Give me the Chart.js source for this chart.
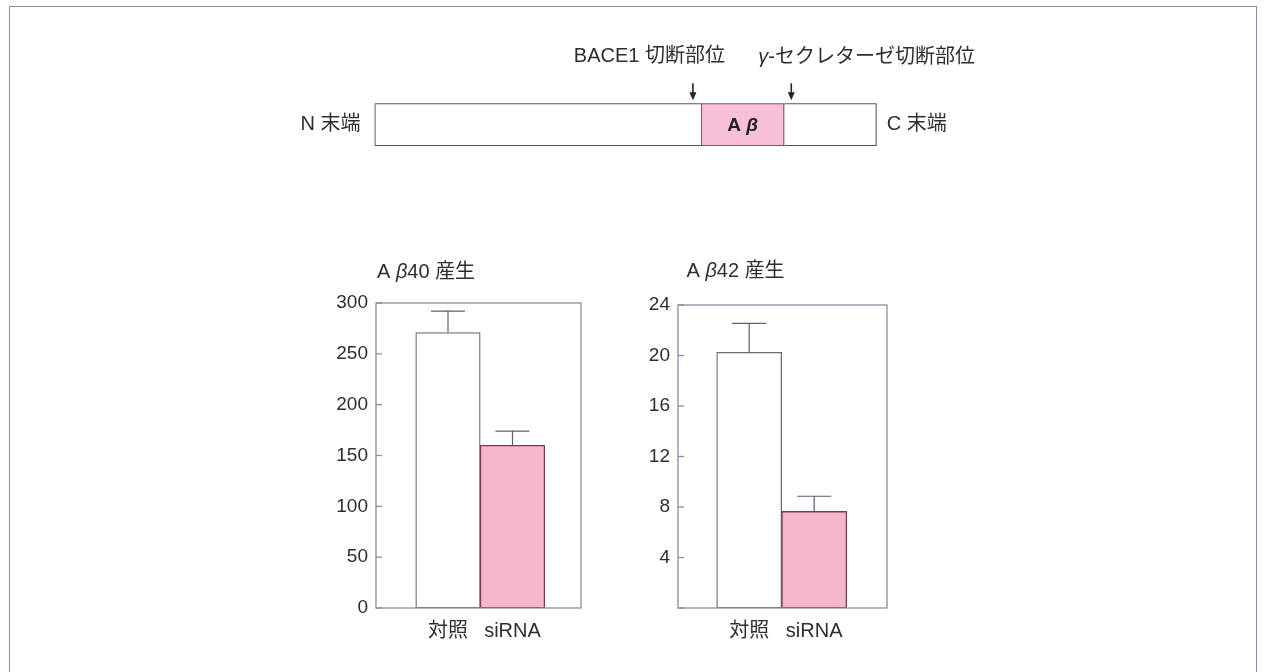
<!DOCTYPE html>
<html lang="ja">
<head>
<meta charset="utf-8">
<title>Aβ産生</title>
<script src="https://cdn.jsdelivr.net/npm/chart.js@4.4.0/dist/chart.umd.min.js"></script>
<style>
    html, body { margin: 0; padding: 0; background: #fff; }
    body { width: 1265px; height: 672px; position: relative; overflow: hidden; }
    #frame {
        position: absolute; left: 9px; top: 6px; width: 1248px; height: 720px;
        border: 1.5px solid #8f8bb0; box-sizing: border-box;
    }
    canvas { position: absolute; }
    #diagram { left: 270px; top: 30px; }
    #ab40Chart { left: 320px; top: 250px; }
    #ab42Chart { left: 620px; top: 250px; }
</style>
</head>
<body>
<div id="frame"></div>
<canvas id="diagram" width="740" height="130"></canvas>
<canvas id="ab40Chart" width="280" height="400"></canvas>
<canvas id="ab42Chart" width="280" height="400"></canvas>

<script>
// APP schematic: relative lengths of the three regions
const regionNames = ['N末端側', 'Aβ', 'C末端側'];
const regionLengths = [65.0, 16.6, 18.4];

// bar charts
const groupLabels = ['対照', 'siRNA'];
const groupPositions = [1, 2];
const ab40Values = [271, 160];
const ab40Errors = [21, 14];
const ab42Values = [20.25, 7.65];
const ab42Errors = [2.3, 1.2];
const ab40Axis = [0, 300, 50];   // min, max, step
const ab42Axis = [0, 24, 4];

const FONT = '"Liberation Sans", "Noto Sans CJK JP", sans-serif';
const TEXT = '#2e2e2e';
const FRAME = '#8a8ca8';
const EDGE = '#6a6a72';
const PINK = '#f6b6cc';
const PINK_EDGE = '#7a3a52';

function font(size, style) {
    return (style ? style + ' ' : '') + size + 'px ' + FONT;
}

// draw several text pieces (each with its own font) in a row
function drawRuns(ctx, runs, x, y, align) {
    let total = 0;
    runs.forEach(r => { ctx.font = r[1]; total += ctx.measureText(r[0]).width; });
    let cx = align === 'right' ? x - total : align === 'center' ? x - total / 2 : x;
    ctx.textAlign = 'left';
    runs.forEach(r => {
        ctx.font = r[1];
        ctx.fillText(r[0], cx, y);
        cx += ctx.measureText(r[0]).width;
    });
}

function drawArrow(ctx, x, yTop, yTip) {
    ctx.beginPath();
    ctx.moveTo(x, yTop);
    ctx.lineTo(x, yTip - 5);
    ctx.stroke();
    ctx.beginPath();
    ctx.moveTo(x, yTip);
    ctx.lineTo(x - 3.5, yTip - 8);
    ctx.lineTo(x + 3.5, yTip - 8);
    ctx.closePath();
    ctx.fill();
}

// labels and cleavage-site arrows around the schematic
const diagramPlugin = {
    id: 'diagramLabels',
    afterDraw(chart) {
        const ctx = chart.ctx;
        const area = chart.chartArea;
        const x = chart.scales.x;
        const cut1 = x.getPixelForValue(regionLengths[0]);
        const cut2 = x.getPixelForValue(regionLengths[0] + regionLengths[1]);
        const midY = (area.top + area.bottom) / 2;
        const a1 = cut1 - 8;
        const a2 = cut2 + 7;

        ctx.save();
        ctx.fillStyle = TEXT;
        ctx.strokeStyle = '#222';
        ctx.lineWidth = 1.6;
        ctx.textBaseline = 'middle';
        drawRuns(ctx, [['N 末端', font(20)]], area.left - 14, midY, 'right');
        drawRuns(ctx, [['C 末端', font(20)]], area.right + 10, midY, 'left');
        ctx.fillStyle = '#222';
        drawRuns(ctx, [['A ', font(19, 'bold')], ['β', font(19, 'italic bold')]], (cut1 + cut2) / 2, midY + 1, 'center');

        drawArrow(ctx, a1, area.top - 20, area.top - 3);
        drawArrow(ctx, a2, area.top - 20, area.top - 3);

        ctx.fillStyle = TEXT;
        drawRuns(ctx, [['BACE1 切断部位', font(20)]], a1 + 32, area.top - 47, 'right');
        drawRuns(ctx, [['γ', font(20, 'italic')], ['-セクレターゼ切断部位', font(20)]], a2 - 33, area.top - 46, 'left');
        ctx.restore();
    }
};

new Chart(document.getElementById('diagram'), {
    type: 'bar',
    data: {
        labels: ['APP'],
        datasets: regionNames.map((name, i) => ({
            label: name,
            data: [regionLengths[i]],
            backgroundColor: i === 1 ? '#f7c0d6' : '#ffffff',
            borderColor: i === 1 ? '#7a5566' : '#55555c',
            borderWidth: {
                top: 1.4,
                bottom: 1.4,
                left: i === 2 ? 0 : 1.4,
                right: i === 0 ? 0 : 1.4
            },
            borderSkipped: false,
            categoryPercentage: 1,
            barPercentage: 1
        }))
    },
    options: {
        indexAxis: 'y',
        responsive: false,
        animation: false,
        layout: { padding: { left: 104.5, right: 133.3, top: 73.3, bottom: 14 } },
        plugins: { legend: { display: false }, tooltip: { enabled: false } },
        scales: {
            x: { stacked: true, display: false, min: 0, max: regionLengths.reduce((a, b) => a + b, 0) },
            y: { stacked: true, display: false }
        }
    },
    plugins: [diagramPlugin]
});

// frame, inward ticks, error bars and panel title
const panelPlugin = {
    id: 'panel',
    afterDatasetsDraw(chart, args, opts) {
        const ctx = chart.ctx;
        const area = chart.chartArea;
        const y = chart.scales.y;
        const ds = chart.data.datasets[0];
        const meta = chart.getDatasetMeta(0);

        ctx.save();
        ctx.strokeStyle = '#5c6070';
        ctx.lineWidth = 1.2;
        meta.data.forEach((bar, i) => {
            const top = y.getPixelForValue(ds.data[i].y + ds.errors[i]);
            ctx.beginPath();
            ctx.moveTo(bar.x, bar.y);
            ctx.lineTo(bar.x, top);
            ctx.moveTo(bar.x - 17, top);
            ctx.lineTo(bar.x + 17, top);
            ctx.stroke();
        });

        ctx.strokeStyle = FRAME;
        ctx.lineWidth = 1.3;
        ctx.strokeRect(area.left, area.top, area.width, area.height);
        y.ticks.forEach(t => {
            const py = y.getPixelForValue(t.value);
            ctx.beginPath();
            ctx.moveTo(area.left, py);
            ctx.lineTo(area.left + 6, py);
            ctx.stroke();
        });

        ctx.fillStyle = TEXT;
        ctx.textBaseline = 'middle';
        drawRuns(ctx, [['A ', font(20)], ['β', font(20, 'italic')], [opts.suffix, font(20)]],
            area.left + opts.dx, area.top + opts.dy, 'left');
        ctx.restore();
    }
};

function buildBarChart(canvasId, cfg) {
    return new Chart(document.getElementById(canvasId), {
        type: 'bar',
        data: {
            datasets: [{
                data: groupPositions.map((p, i) => ({ x: p, y: cfg.values[i] })),
                errors: cfg.errors,
                backgroundColor: ['#ffffff', PINK],
                borderColor: [EDGE, PINK_EDGE],
                borderWidth: 1.3,
                borderSkipped: false,
                categoryPercentage: 1,
                barPercentage: 1
            }]
        },
        options: {
            responsive: false,
            animation: false,
            layout: { padding: cfg.padding },
            plugins: {
                legend: { display: false },
                tooltip: { enabled: false },
                panel: cfg.title
            },
            scales: {
                x: {
                    type: 'linear',
                    min: cfg.xRange[0],
                    max: cfg.xRange[1],
                    offset: false,
                    grid: { display: false, drawTicks: false },
                    border: { display: false },
                    afterBuildTicks: s => { s.ticks = groupPositions.map(v => ({ value: v })); },
                    afterFit: s => { s.height = 42; },
                    ticks: {
                        autoSkip: false,
                        maxRotation: 0,
                        padding: 11,
                        color: TEXT,
                        font: { family: FONT, size: 20 },
                        callback: v => groupLabels[groupPositions.indexOf(v)] || ''
                    }
                },
                y: {
                    min: cfg.axis[0],
                    max: cfg.axis[1],
                    grid: { display: false, drawTicks: false },
                    border: { display: false },
                    afterFit: s => { s.width = cfg.axisWidth; },
                    ticks: {
                        stepSize: cfg.axis[2],
                        padding: 8,
                        color: TEXT,
                        font: { family: FONT, size: 19 },
                        callback: v => (cfg.hideZero && v === 0) ? '' : v
                    }
                }
            }
        },
        plugins: [panelPlugin]
    });
}

buildBarChart('ab40Chart', {
    values: ab40Values,
    errors: ab40Errors,
    axis: ab40Axis,
    xRange: [-0.116, 3.062],
    axisWidth: 56,
    padding: { left: 0, right: 19, top: 53, bottom: 0 },
    hideZero: false,
    title: { suffix: '40 産生', dx: 1, dy: -31 }
});

buildBarChart('ab42Chart', {
    values: ab42Values,
    errors: ab42Errors,
    axis: ab42Axis,
    xRange: [-0.095, 3.12],
    axisWidth: 58,
    padding: { left: 0, right: 13, top: 55, bottom: 0 },
    hideZero: true,
    title: { suffix: '42 産生', dx: 8.5, dy: -34 }
});
</script>
</body>
</html>
